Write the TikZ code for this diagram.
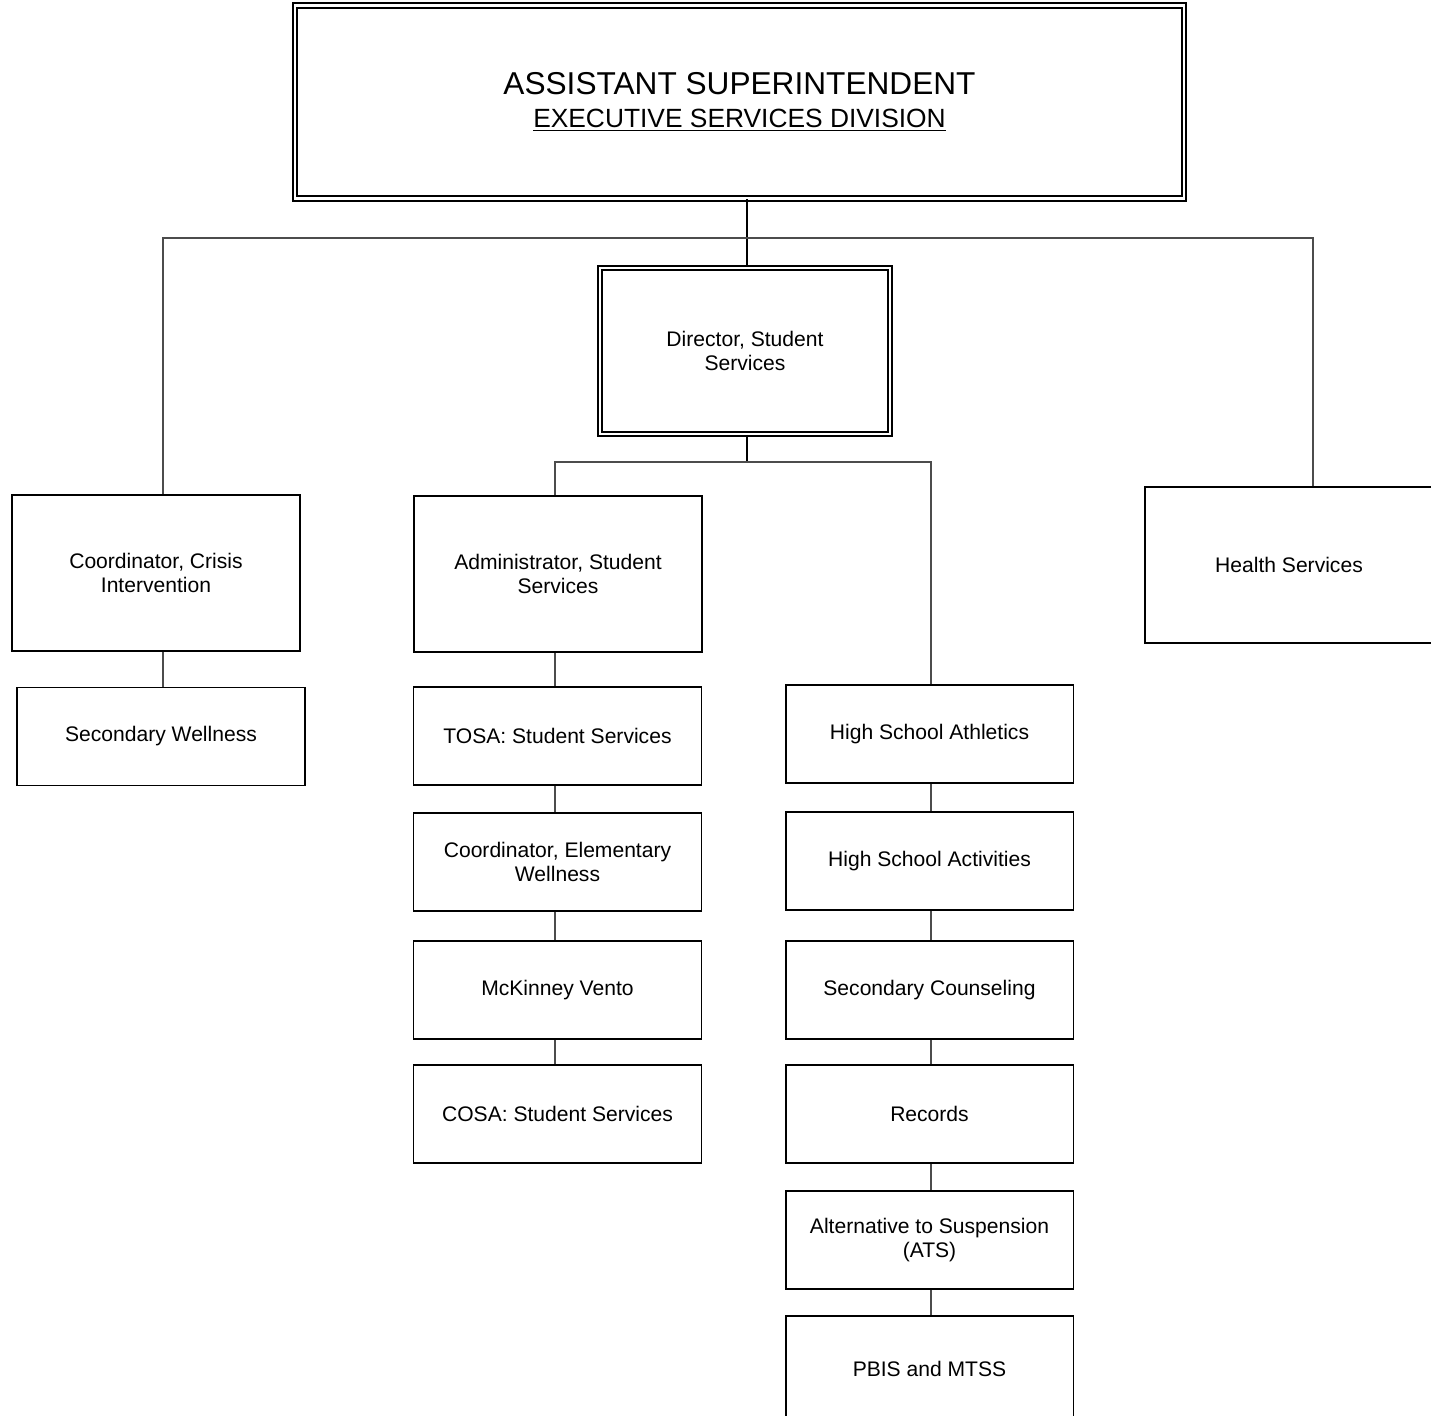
\documentclass[tikz,border=0pt]{standalone}
\usepackage{fontspec}
\setmainfont{Liberation Sans}
\tikzset{
  unitbox/.style={draw, line width=1.1pt, minimum width=5.76cm, minimum height=1.96cm, align=center, inner sep=2pt, font=\fontsize{12}{14}\selectfont},
  tallbox/.style={unitbox, minimum height=3.12cm},
  headbox/.style={draw, double, line width=1.1pt, double distance=1.3pt, align=center, inner sep=2pt},
  link/.style={draw=black!70, line width=0.75pt},
  trunk/.style={draw=black, line width=1.2pt},
}
\newcommand{\Unit}[4][]{\node[unitbox, #1] (#2) at (#3) {#4};}
\newcommand{\TallUnit}[4][]{\node[tallbox, #1] (#2) at (#3) {#4};}

\begin{document}
\begin{tikzpicture}[x=0.02cm, y=-0.02cm]
\useasboundingbox (0,0) rectangle (1431,1416);

\node[headbox, minimum width=17.78cm, minimum height=3.86cm, font=\fontsize{18}{18.6}\selectfont] (asst) at (739.5,102)
	{ASSISTANT SUPERINTENDENT\\ {\fontsize{15}{16}\selectfont\underline{EXECUTIVE SERVICES DIVISION}}};
\node[headbox, minimum width=5.8cm, minimum height=3.32cm, font=\fontsize{12}{14}\selectfont] (dir) at (745,351)
	{Director, Student\\ Services};

	\TallUnit{crisis}{156,573}{Coordinator, Crisis\\ Intervention}
	\Unit{swell}{161,736.5}{Secondary Wellness}
	
	\TallUnit{admin}{558,574}{Administrator, Student\\ Services}
	\Unit{tosa}{557.5,736}{TOSA: Student Services}
	\Unit{elem}{557.5,862}{Coordinator, Elementary\\ Wellness}
	\Unit{mck}{557.5,990}{McKinney Vento}
	\Unit{cosa}{557.5,1114}{COSA: Student Services}
	
	\Unit{ath}{929.5,734}{High School Athletics}
	\Unit{act}{929.5,861}{High School Activities}
	\Unit{couns}{929.5,990}{Secondary Counseling}
	\Unit{rec}{929.5,1114}{Records}
	\Unit{ats}{929.5,1240}{Alternative to Suspension\\ (ATS)}
	\Unit[minimum height=2.12cm]{pbis}{929.5,1369}{PBIS and MTSS}
	
	\TallUnit{health}{1289,565}{Health Services}

\coordinate (topjoin) at (747,238);
\coordinate (leftjoin) at (163,238);
\coordinate (rightjoin) at (1313,238);
\coordinate (dirjoin) at (747,462);
\coordinate (admjoin) at (555,462);
\coordinate (athjoin) at (931,462);

	\draw[trunk] (asst.south -| topjoin) -- (dir.north -| topjoin);
	\draw[link] (crisis.north -| leftjoin) -- (leftjoin) -- (rightjoin) -- (health.north -| rightjoin);
	\draw[link] (crisis.south -| leftjoin) -- (swell.north -| leftjoin);
	
	\draw[trunk] (dir.south -| dirjoin) -- (dirjoin);
	\draw[link] (admin.north -| admjoin) -- (admjoin) -- (athjoin) -- (ath.north -| athjoin);
	
	\foreach \a/\b in {admin/tosa, tosa/elem, elem/mck, mck/cosa}
		\draw[link] (\a.south -| admjoin) -- (\b.north -| admjoin);
	\foreach \a/\b in {ath/act, act/couns, couns/rec, rec/ats, ats/pbis}
		\draw[link] (\a.south -| athjoin) -- (\b.north -| athjoin);

\end{tikzpicture}
\end{document}
